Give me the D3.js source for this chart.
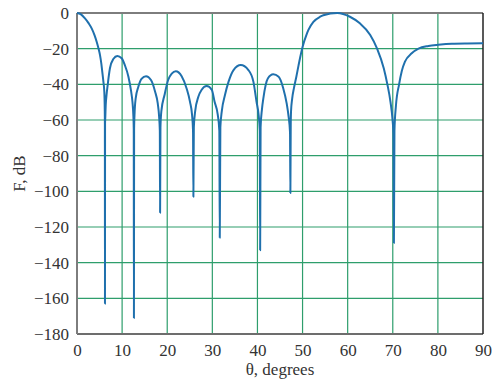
<!DOCTYPE html>
<html>
<head>
<meta charset="utf-8">
<script src="https://cdn.jsdelivr.net/npm/d3@7"></script>
<style>
html,body{margin:0;padding:0;background:#fff;}
svg{display:block;}
text{font-family:"Liberation Serif","Times New Roman",serif;fill:#333;}
</style>
</head>
<body>
<svg id="chart" width="494" height="380"></svg>
<script>
const theta = [0,0.8,1.77,2.6,3.25,3.9,4.36,4.8,5.1,5.4,5.6,5.85,6.05,6.15,6.18,6.2,6.22,6.28,6.36,6.55,6.8,7.3,8.05,8.94,9.9,10.6,11.4,12.0,12.3,12.5,12.58,12.62,12.66,12.75,13.0,13.6,14.3,15.3,16.4,17.3,17.9,18.2,18.36,18.42,18.5,18.7,19.4,20.2,21.0,21.9,23.2,24.3,25.05,25.5,25.72,25.8,25.9,26.2,26.9,27.6,28.75,29.9,30.5,31.2,31.55,31.65,31.78,32.1,32.8,33.6,34.7,36.3,38.0,39.1,39.8,40.25,40.52,40.6,40.7,41.0,41.3,42.3,43.5,44.7,45.7,46.5,46.9,47.22,47.3,47.38,47.45,47.7,48.1,48.6,49.1,49.5,50.0,50.9,51.3,52.4,53.9,54.6,57.7,60.5,62.7,65.0,66.5,68.0,68.8,69.5,69.95,70.15,70.25,70.37,70.7,71.4,72.0,72.7,74.2,75.7,77.9,80.1,83.1,86.5,90];
const F = [0,-0.6,-3,-5.8,-8.6,-12.5,-16.1,-20.2,-23.6,-28.5,-32.9,-38.5,-44,-54,-62,-163,-62,-58,-52,-46,-40.4,-31,-25.8,-24.1,-25.4,-29.2,-35.7,-44,-50,-58,-65,-171,-65,-57,-48,-41.4,-37,-35.4,-37.6,-44,-50.7,-58,-66,-112,-64,-55,-46,-37.6,-34,-32.7,-35.5,-42.3,-49.8,-57,-66,-103,-64,-55,-47,-43.2,-41,-43.2,-49.8,-57,-66,-126,-64,-55,-46,-38.5,-32,-29.2,-32,-38.5,-49.8,-57,-66,-133,-64,-54,-48,-36.7,-34.4,-35.7,-42,-51,-58,-67,-101,-63,-55,-48,-42,-36,-29.5,-24.5,-19,-12,-9.5,-5,-2.1,-1.3,0,-2.1,-5.8,-12.3,-19.8,-31,-40,-50,-60,-68,-129,-66,-52,-40,-32.5,-27.3,-22.6,-20.0,-18.5,-17.8,-17.2,-17.05,-17.0];
const xTicks = [0,10,20,30,40,50,60,70,80,90];
const yTicks = [0,-20,-40,-60,-80,-100,-120,-140,-160,-180];
const xTitle = "θ, degrees";
const yTitle = "F, dB";

const W = 494, H = 380;
const m = {l:77, r:11, t:13, b:46};
const FONT = "Liberation Serif";
const svg = d3.select("#chart");
const x = d3.scaleLinear().domain([0,90]).range([m.l, W-m.r]);
const y = d3.scaleLinear().domain([-180,0]).range([H-m.b, m.t]);
const fmt = v => (v < 0 ? "\u2212" + Math.abs(v) : String(v));

const grid = svg.append("g");
grid.selectAll("line.v").data(xTicks.slice(1,-1)).join("line")
  .attr("x1", d=>x(d)).attr("x2", d=>x(d)).attr("y1", y(0)).attr("y2", y(-180))
  .attr("stroke", "#2e9e6c").attr("stroke-width", 1.2);
grid.selectAll("line.h").data(yTicks.slice(1,-1)).join("line")
  .attr("x1", x(0)).attr("x2", x(90)).attr("y1", d=>y(d)).attr("y2", d=>y(d))
  .attr("stroke", "#2e9e6c").attr("stroke-width", 1.2);

// frame
svg.append("line").attr("x1", x(0)).attr("x2", x(90)).attr("y1", y(0)).attr("y2", y(0)).attr("stroke", "#7d7d7d").attr("stroke-width", 2);
svg.append("line").attr("x1", x(0)).attr("x2", x(90)).attr("y1", y(-180)).attr("y2", y(-180)).attr("stroke", "#6d6d6d").attr("stroke-width", 2);
svg.append("line").attr("x1", x(0)).attr("x2", x(0)).attr("y1", y(0)).attr("y2", y(-180)).attr("stroke", "#7d7d7d").attr("stroke-width", 2);
svg.append("line").attr("x1", x(90)).attr("x2", x(90)).attr("y1", y(0)).attr("y2", y(-180)).attr("stroke", "#222").attr("stroke-width", 1.5);

const xAxis = d3.axisBottom(x).tickValues(xTicks).tickSize(0).tickPadding(10).tickFormat(fmt);
const gx = svg.append("g").attr("transform", `translate(0,${y(-180)})`).call(xAxis)
  .attr("font-family", FONT).attr("font-size", 17);
gx.select(".domain").remove();
gx.selectAll("text").attr("fill", "#333").style("font-family", FONT);

const yAxis = d3.axisLeft(y).tickValues(yTicks).tickSize(0).tickPadding(8).tickFormat(fmt);
const gy = svg.append("g").attr("transform", `translate(${x(0)},0)`).call(yAxis)
  .attr("font-family", FONT).attr("font-size", 17);
gy.select(".domain").remove();
gy.selectAll("text").attr("fill", "#333").style("font-family", FONT);

// curve
const pts = theta.map((t,i)=>[t, F[i]]);
const line = d3.line().x(d=>x(d[0])).y(d=>y(d[1])).curve(d3.curveMonotoneX);
svg.append("path").datum(pts).attr("d", line)
  .attr("fill", "none").attr("stroke", "#1f70ad").attr("stroke-width", 2).attr("stroke-linejoin", "round");

// titles
svg.append("text").attr("x", (x(0)+x(90))/2).attr("y", 375).attr("text-anchor", "middle")
  .attr("font-size", 17).text(xTitle);
svg.append("text").attr("transform", `translate(25,${(y(0)+y(-180))/2}) rotate(-90)`).attr("text-anchor", "middle")
  .attr("font-size", 17).text(yTitle);
</script>
</body>
</html>
